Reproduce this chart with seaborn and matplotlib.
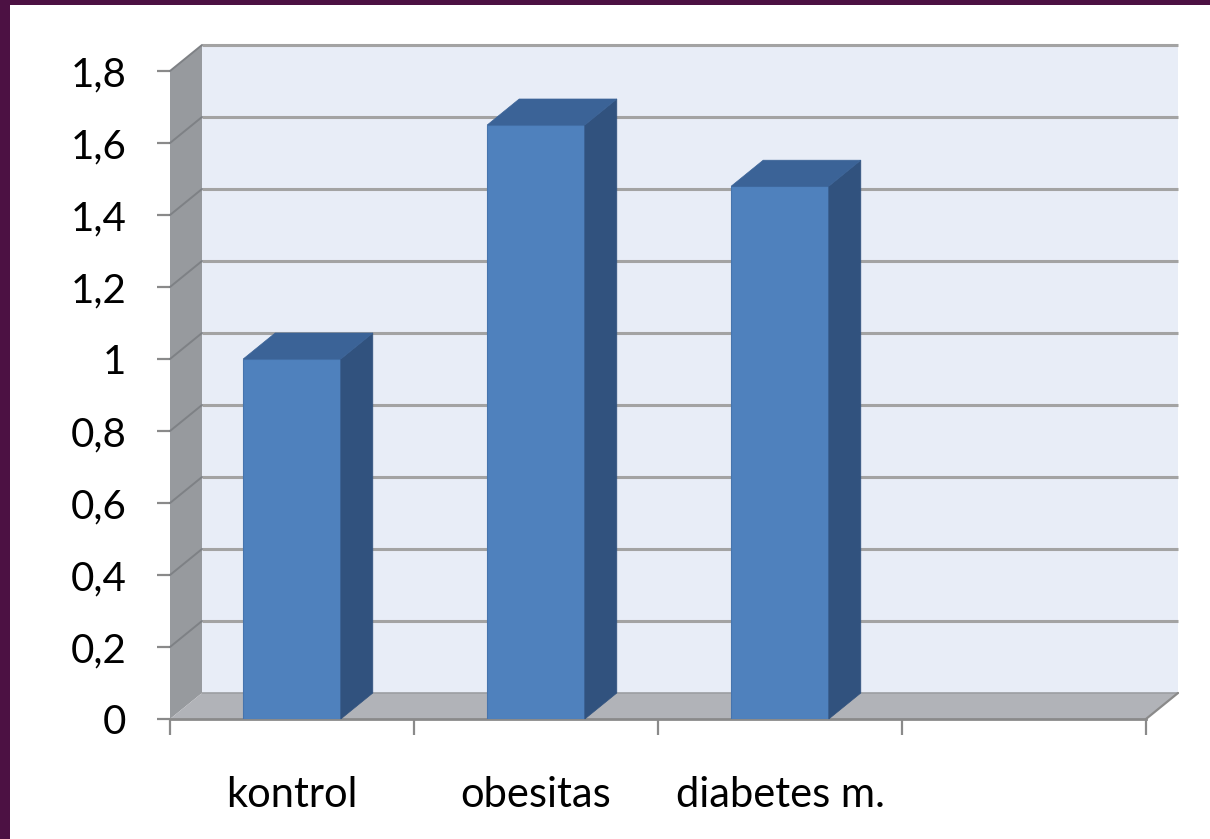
import pandas as pd
import seaborn as sns
import matplotlib.pyplot as plt
from matplotlib.colors import to_rgb
from matplotlib.patches import Polygon, Rectangle

# Data
groups = ["kontrol", "obesitas", "diabetes m."]
values = [1.0, 1.65, 1.48]
y_ticks = [0, 0.2, 0.4, 0.6, 0.8, 1.0, 1.2, 1.4, 1.6, 1.8]
y_tick_labels = ["0", "0,2", "0,4", "0,6", "0,8", "1", "1,2", "1,4", "1,6", "1,8"]
slot_labels = groups + [""]

sns.set_theme(style="white")
plt.rcParams["font.family"] = ["Lato", "DejaVu Sans"]

# Colours of the pseudo-3D column chart
FRONT = "#4F81BD"
SIDE = "#31527E"
TOP = "#3B6397"
WALL_BACK = "#E8EDF7"
WALL_LEFT = "#979A9E"
WALL_LEFT_GRID = "#7E8185"
FLOOR = "#B1B3B8"
GRID = "#A3A3A3"
AXIS = "#8A8A8A"
FRAME = "#4C1143"

fig = plt.figure(figsize=(12.1, 8.39), dpi=100)
fig.patch.set_facecolor("white")
ax = fig.add_axes([170 / 1210, 120 / 839, 976 / 1210, 648 / 839])
ax.patch.set_visible(False)

df = pd.DataFrame({"group": groups, "value": values})
sns.barplot(data=df, x="group", y="value", color=FRONT, saturation=1,
            width=0.4, errorbar=None, edgecolor="#4674AD", linewidth=0.8,
            ax=ax, zorder=5)

x_lo, x_hi = -0.5, len(slot_labels) - 0.5
y_hi = 1.8
ax.set_xlim(x_lo, x_hi)
ax.set_ylim(0, y_hi)

# depth of the chart box, in data units
DX = 32 / 244
DY = 26 / 360

# back wall with its gridlines
ax.add_patch(Rectangle((x_lo + DX, DY), x_hi - x_lo, y_hi, facecolor=WALL_BACK,
                       edgecolor="none", zorder=0, clip_on=False))
for v in y_ticks[1:]:
    ax.plot([x_lo + DX, x_hi + DX], [v + DY, v + DY], color=GRID, lw=2.2,
            zorder=1, clip_on=False, solid_capstyle="butt")

# left side wall
ax.add_patch(Polygon([(x_lo, 0), (x_lo, y_hi), (x_lo + DX, y_hi + DY), (x_lo + DX, DY)],
                     closed=True, facecolor=WALL_LEFT, edgecolor="none",
                     zorder=2, clip_on=False))
for v in y_ticks[1:]:
    ax.plot([x_lo, x_lo + DX], [v, v + DY], color=WALL_LEFT_GRID, lw=1.4,
            zorder=2.5, clip_on=False)

# floor
ax.add_patch(Polygon([(x_lo, 0), (x_hi, 0), (x_hi + DX, DY), (x_lo + DX, DY)],
                     closed=True, facecolor=FLOOR, edgecolor="none",
                     zorder=3, clip_on=False))
ax.plot([x_hi, x_hi + DX], [0, DY], color=AXIS, lw=1.6, zorder=3.5, clip_on=False)
ax.plot([x_lo + DX, x_hi + DX], [DY, DY], color="#9C9EA2", lw=1.2, zorder=3.2,
        clip_on=False)

# side and top faces of every column
front_rgb = to_rgb(FRONT)
for bar in list(ax.patches):
    if not isinstance(bar, Rectangle) or tuple(bar.get_facecolor()[:3]) != front_rgb:
        continue
    bx0 = bar.get_x()
    bx1 = bx0 + bar.get_width()
    h = bar.get_height()
    ax.add_patch(Polygon([(bx1, 0), (bx1 + DX, DY), (bx1 + DX, h + DY), (bx1, h)],
                         closed=True, facecolor=SIDE, edgecolor=SIDE, lw=0.5,
                         zorder=5, clip_on=False))
    ax.add_patch(Polygon([(bx0, h), (bx1, h), (bx1 + DX, h + DY), (bx0 + DX, h + DY)],
                         closed=True, facecolor=TOP, edgecolor=TOP, lw=0.5,
                         zorder=5, clip_on=False))

# axes, ticks and labels
for side in ["left", "right", "top"]:
    ax.spines[side].set_visible(False)
ax.spines["bottom"].set_color(AXIS)
ax.spines["bottom"].set_linewidth(2)
ax.spines["bottom"].set_zorder(4)

ax.set_yticks(y_ticks, y_tick_labels)
ax.tick_params(axis="y", which="major", left=True, length=9.5, width=1.6,
               color=AXIS, pad=22, labelsize=29, labelcolor="black")

ax.set_xticks([i - 0.5 for i in range(len(slot_labels) + 1)])
ax.set_xticklabels([])
ax.set_xticks(range(len(slot_labels)), slot_labels, minor=True)
ax.tick_params(axis="x", which="major", bottom=True, length=11.5, width=1.6,
               color=AXIS)
ax.tick_params(axis="x", which="minor", bottom=False, length=0, pad=41,
               labelsize=30, labelcolor="black")
ax.set_xlabel("")
ax.set_ylabel("")

# slide frame
fig.add_artist(Rectangle((0, 0), 10 / 1210, 1, transform=fig.transFigure,
                         facecolor=FRAME, edgecolor="none"))
fig.add_artist(Rectangle((0, 1 - 5 / 839), 1, 5 / 839, transform=fig.transFigure,
                         facecolor=FRAME, edgecolor="none"))

fig.savefig("out.png", dpi=100)
